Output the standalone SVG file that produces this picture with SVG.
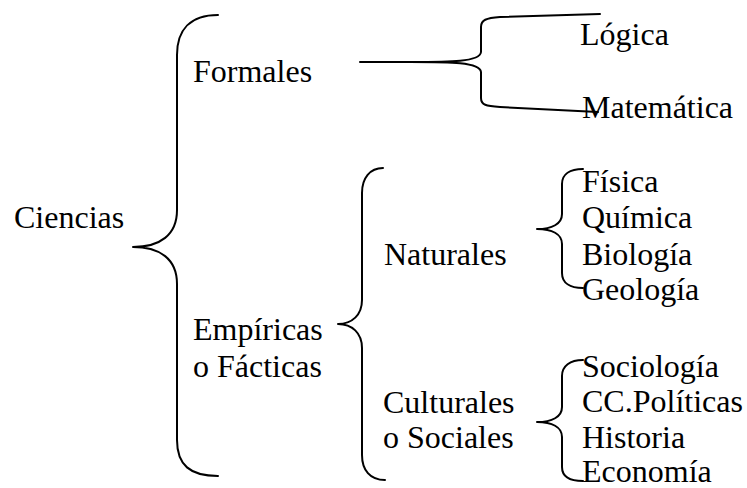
<svg xmlns="http://www.w3.org/2000/svg" width="747" height="488" viewBox="0 0 747 488">
<style>
text{font-family:"Liberation Serif","Times New Roman",serif;font-size:32px;fill:#000}
.br{fill:none;stroke:#000;stroke-width:2;stroke-linecap:round;stroke-linejoin:round}
</style>
<rect width="747" height="488" fill="#fff"/>
<g id="connectors">
<path class="br" d="M218,15 C190,15 177,30 177,55 L177,210 C177,235 160,247 133,247 C160,247 177,259 177,284 L177,440 C177,465 190,476 218,476"/>
<path class="br" d="M360,62 L410,62 C450,62 480,62 481,52 L481,27 C481,20 486,18 500,17 L600,14"/>
<path class="br" d="M410,62 C450,62 480,62 481,72 L481,98 C481,105 486,106 500,107 L598,112"/>
<path class="br" d="M383,168 C370,168 362,178 362,193 L362,300 C362,315 352,324 338,324 C352,324 362,333 362,348 L362,455 C362,470 370,480 385,480"/>
<path class="br" d="M583,169 C570,169 562,174 562,184 L562,214 C562,224 552,229 537,229 C552,229 562,234 562,244 L562,273 C562,283 570,288 583,288"/>
<path class="br" d="M583,360 C570,360 562,366 562,376 L562,407 C562,417 552,422 537,422 C552,422 562,427 562,437 L562,467 C562,477 570,481 583,481"/>
</g>
<g id="ciencias"><text x="14" y="228">Ciencias</text></g>
<g id="formales"><text x="193" y="82">Formales</text></g>
<g id="logica"><text x="580" y="45">Lógica</text></g>
<g id="matematica"><text x="582" y="118">Matemática</text></g>
<g id="empiricas"><text x="193" y="340">Empíricas</text><text x="193" y="377">o Fácticas</text></g>
<g id="naturales"><text x="384" y="265">Naturales</text></g>
<g id="culturales"><text x="383" y="413">Culturales</text><text x="383" y="448">o Sociales</text></g>
<g id="fisica"><text x="582" y="192">Física</text></g>
<g id="quimica"><text x="582" y="228">Química</text></g>
<g id="biologia"><text x="582" y="265">Biología</text></g>
<g id="geologia"><text x="582" y="300">Geología</text></g>
<g id="sociologia"><text x="582" y="377">Sociología</text></g>
<g id="ccpoliticas"><text x="582" y="412">CC.Políticas</text></g>
<g id="historia"><text x="582" y="448">Historia</text></g>
<g id="economia"><text x="582" y="482">Economía</text></g>
</svg>
